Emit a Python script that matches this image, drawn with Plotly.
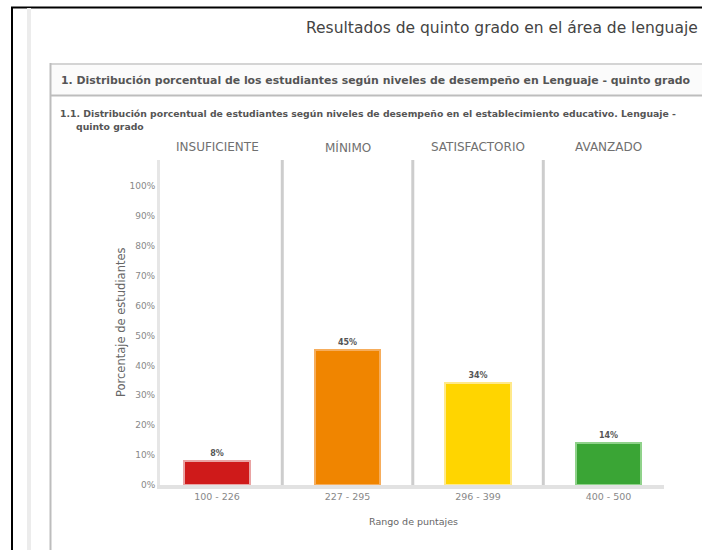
import plotly.graph_objects as go

# ---- data ----
levels = ["INSUFICIENTE", "MÍNIMO", "SATISFACTORIO", "AVANZADO"]
score_ranges = ["100 - 226", "227 - 295", "296 - 399", "400 - 500"]
percentages = [8, 45, 34, 14]
bar_colors = ["#cf1a1a", "#f08500", "#ffd500", "#3aa535"]
bar_edges = ["#e9a3a3", "#f6ad5c", "#ffe98a", "#8fd28a"]
y_ticks = [0, 10, 20, 30, 40, 50, 60, 70, 80, 90, 100]

title_text = "Resultados de quinto grado en el área de lenguaje"
section_text = "1. Distribución porcentual de los estudiantes según niveles de desempeño en Lenguaje - quinto grado"
sub_line1 = "1.1. Distribución porcentual de estudiantes según niveles de desempeño en el establecimiento educativo. Lenguaje -"
sub_line2 = "quinto grado"

# ---- geometry (pixels) ----
W, H = 702, 550
L, R, T, B = 160, 664, 160, 485
PW, PH = R - L, B - T


def px(x):
    return (x - L) / PW


def py(y):
    return (B - y) / PH


FONT = "DejaVu Sans, Verdana, sans-serif"
xs = list(range(len(levels)))

fig = go.Figure()
fig.add_trace(go.Bar(
    x=xs, y=percentages, width=0.5,
    marker=dict(color=bar_colors, line=dict(color=bar_edges, width=2)),
    text=[f"<b>{v}%</b>" for v in percentages], textposition="outside",
    textfont=dict(size=8, color="#555555", family=FONT),
    cliponaxis=False, hoverinfo="skip",
))

shapes = []
# outer frame
shapes.append(dict(type="line", xref="paper", yref="paper", x0=px(11), x1=px(702), y0=py(7.5), y1=py(7.5),
                   line=dict(color="#000000", width=2)))
shapes.append(dict(type="line", xref="paper", yref="paper", x0=px(12), x1=px(12), y0=py(7), y1=py(550),
                   line=dict(color="#000000", width=2)))
shapes.append(dict(type="line", xref="paper", yref="paper", x0=px(29), x1=px(29), y0=py(8), y1=py(550),
                   line=dict(color="#ececec", width=4)))
# section box
shapes.append(dict(type="rect", xref="paper", yref="paper", x0=px(50), x1=px(702), y0=py(64), y1=py(95),
                   fillcolor="#fbfbfb", line=dict(width=0), layer="below"))
shapes.append(dict(type="line", xref="paper", yref="paper", x0=px(50), x1=px(702), y0=py(64), y1=py(64),
                   line=dict(color="#d4d4d4", width=2)))
shapes.append(dict(type="line", xref="paper", yref="paper", x0=px(50), x1=px(702), y0=py(95.5), y1=py(95.5),
                   line=dict(color="#bdbdbd", width=2)))
shapes.append(dict(type="line", xref="paper", yref="paper", x0=px(50.5), x1=px(50.5), y0=py(63), y1=py(550),
                   line=dict(color="#bdbdbd", width=2)))
# column separators
for k in range(len(levels) - 1):
    shapes.append(dict(type="line", xref="x", yref="paper", x0=k + 0.5, x1=k + 0.5, y0=0, y1=1,
                       line=dict(color="#cdcdcd", width=3), layer="below"))

annotations = []
annotations.append(dict(text=title_text, xref="paper", yref="paper", x=px(700), y=py(28),
                        xanchor="right", yanchor="middle", showarrow=False,
                        font=dict(size=15.5, color="#444444", family=FONT)))
annotations.append(dict(text="<b>" + section_text + "</b>", xref="paper", yref="paper", x=px(59), y=py(80),
                        xanchor="left", yanchor="middle", showarrow=False,
                        font=dict(size=10.9, color="#555555", family=FONT)))
annotations.append(dict(text="<b>" + sub_line1 + "</b>", xref="paper", yref="paper", x=px(58), y=py(113),
                        xanchor="left", yanchor="middle", showarrow=False,
                        font=dict(size=9.3, color="#555555", family=FONT)))
annotations.append(dict(text="<b>" + sub_line2 + "</b>", xref="paper", yref="paper", x=px(74), y=py(126),
                        xanchor="left", yanchor="middle", showarrow=False,
                        font=dict(size=9.3, color="#555555", family=FONT)))
for k, lev in enumerate(levels):
    annotations.append(dict(text=lev, xref="x", yref="paper", x=k, y=py(147),
                            xanchor="center", yanchor="middle", showarrow=False,
                            font=dict(size=12, color="#707070", family=FONT)))
annotations.append(dict(text="Porcentaje de estudiantes", xref="paper", yref="paper", x=px(121), y=py(322),
                        xanchor="center", yanchor="middle", textangle=-90, showarrow=False,
                        font=dict(size=11.5, color="#666666", family=FONT)))
annotations.append(dict(text="Rango de puntajes", xref="paper", yref="paper", x=px(413), y=py(521),
                        xanchor="center", yanchor="middle", showarrow=False,
                        font=dict(size=9.5, color="#666666", family=FONT)))

fig.update_layout(
    width=W, height=H, autosize=False,
    margin=dict(l=L, r=W - R, t=T, b=H - B, pad=0),
    paper_bgcolor="#ffffff", plot_bgcolor="#ffffff",
    showlegend=False, bargap=0,
    shapes=shapes, annotations=annotations,
    font=dict(family=FONT),
)
fig.update_xaxes(
    range=[-0.437, 3.425], tickvals=xs, ticktext=score_ranges,
    tickfont=dict(size=9.5, color="#888888", family=FONT),
    showgrid=False, zeroline=False, showline=True, linecolor="#e2e2e2", linewidth=4,
    ticks="", fixedrange=True,
)
fig.update_yaxes(
    range=[0, 108.7], tickvals=y_ticks, ticktext=[f"{v}%" for v in y_ticks],
    tickfont=dict(size=9, color="#888888", family=FONT),
    showgrid=False, zeroline=False, showline=True, linecolor="#e6e6e6", linewidth=3,
    ticks="", fixedrange=True,
)

fig.write_html("out.html")
